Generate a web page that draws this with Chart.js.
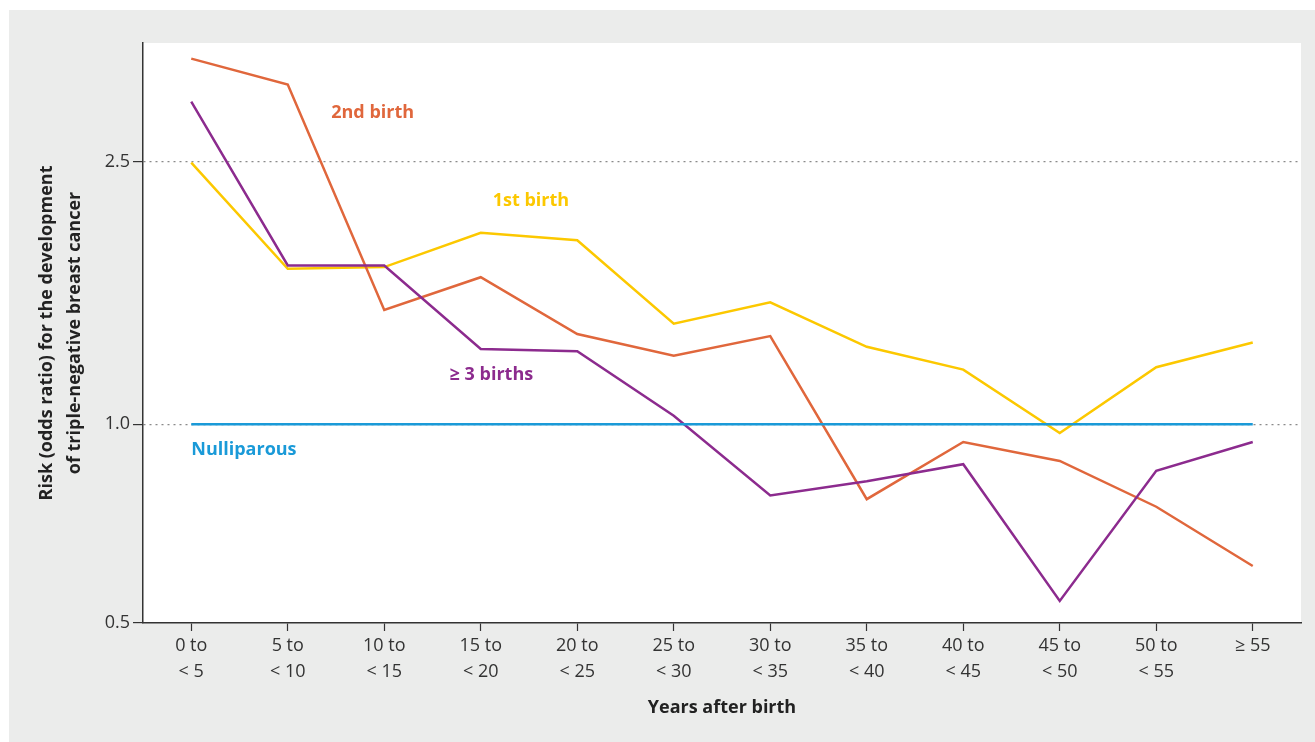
<!DOCTYPE html>
<html>
<head>
<meta charset="utf-8">
<title>Triple-negative breast cancer risk after birth</title>
<script src="https://cdn.jsdelivr.net/npm/chart.js@4.4.1/dist/chart.umd.min.js"></script>
<style>
  html, body { margin: 0; padding: 0; background: #fff; }
  canvas { display: block; }
</style>
</head>
<body>
<canvas id="riskChart" width="1315" height="742"></canvas>
<script>
"use strict";

// категории по оси X
const yearLabels = [
  ["0 to", "< 5"], ["5 to", "< 10"], ["10 to", "< 15"], ["15 to", "< 20"],
  ["20 to", "< 25"], ["25 to", "< 30"], ["30 to", "< 35"], ["35 to", "< 40"],
  ["40 to", "< 45"], ["45 to", "< 50"], ["50 to", "< 55"], ["≥ 55"]
];

// значения (odds ratio)
const nulliparous = [1, 1, 1, 1, 1, 1, 1, 1, 1, 1, 1, 1];
const firstBirth  = [2.49, 1.72, 1.73, 1.95, 1.90, 1.42, 1.53, 1.31, 1.21, 0.97, 1.22, 1.33];
const secondBirth = [3.58, 3.27, 1.49, 1.67, 1.37, 1.27, 1.36, 0.77, 0.94, 0.88, 0.75, 0.61];
const thirdBirth  = [3.08, 1.74, 1.74, 1.30, 1.29, 1.03, 0.78, 0.82, 0.87, 0.54, 0.85, 0.94];

// подписи оси Y
const yTicks = [0.5, 1.0, 2.5];

const FONT = "'Open Sans', 'Noto Sans', sans-serif";
const COLORS = {
  blue: "#1a9ad8",
  yellow: "#fcc800",
  orange: "#e0673c",
  purple: "#8c2b8e"
};

// подписи линий прямо на графике (x — индекс категории, y — значение)
const lineNotes = [
  { text: "2nd birth", x: 1.88, y: 2.96, color: COLORS.orange, align: "center" },
  { text: "1st birth", x: 3.52, y: 2.18, color: COLORS.yellow, align: "center" },
  { text: "≥ 3 births", x: 3.11, y: 1.187, color: COLORS.purple, align: "center" },
  { text: "Nulliparous", x: 0, y: 0.913, color: COLORS.blue, align: "left" }
];

// серый фон и белая область графика
const panelBackground = {
  id: "panelBackground",
  beforeDraw(chart) {
    const { ctx, chartArea } = chart;
    ctx.save();
    ctx.fillStyle = "#ebeceb";
    ctx.fillRect(9, 10, chart.width - 9, chart.height - 10);
    ctx.fillStyle = "#ffffff";
    ctx.fillRect(chartArea.left, chartArea.top,
      chartArea.right - chartArea.left, chartArea.bottom - chartArea.top);
    ctx.restore();
  }
};

const lineNotesPlugin = {
  id: "lineNotes",
  afterDatasetsDraw(chart) {
    const { ctx, scales } = chart;
    ctx.save();
    ctx.font = "bold 18px " + FONT;
    ctx.textBaseline = "middle";
    lineNotes.forEach((note) => {
      ctx.fillStyle = note.color;
      ctx.textAlign = note.align;
      ctx.fillText(note.text, scales.x.getPixelForValue(note.x), scales.y.getPixelForValue(note.y));
    });
    ctx.restore();
  }
};

function makeLine(label, data, color) {
  return {
    label,
    data,
    borderColor: color,
    backgroundColor: color,
    borderWidth: 2.5,
    pointRadius: 0,
    tension: 0,
    fill: false
  };
}

const ctx = document.getElementById("riskChart");
new Chart(ctx, {
  type: "line",
  data: {
    labels: yearLabels,
    datasets: [
      makeLine("Nulliparous", nulliparous, COLORS.blue),
      makeLine("≥ 3 births", thirdBirth, COLORS.purple),
      makeLine("2nd birth", secondBirth, COLORS.orange),
      makeLine("1st birth", firstBirth, COLORS.yellow)
    ]
  },
  options: {
    responsive: false,
    animation: false,
    devicePixelRatio: 1,
    layout: { padding: { top: 43, right: 14, left: 0, bottom: 0 } },
    plugins: {
      legend: { display: false },
      tooltip: { enabled: false }
    },
    scales: {
      x: {
        offset: true,
        afterFit: (scale) => { scale.height = 119; },
        border: { display: true, color: "#333", width: 1.5 },
        grid: {
          drawOnChartArea: false,
          drawTicks: true,
          tickLength: 8,
          tickColor: "#333",
          tickWidth: 1.2
        },
        ticks: {
          autoSkip: false,
          maxRotation: 0,
          padding: 2,
          color: "#333",
          font: { family: FONT, size: 18, lineHeight: 1.45 }
        },
        title: {
          display: true,
          text: "Years after birth",
          color: "#222",
          padding: { top: 0, bottom: 23 },
          font: { family: FONT, size: 18, weight: "bold", lineHeight: 1.2 }
        }
      },
      y: {
        type: "logarithmic",
        min: 0.5,
        max: 3.78,
        afterBuildTicks: (scale) => {
          scale.ticks = yTicks.map((v) => ({ value: v }));
        },
        afterFit: (scale) => { scale.width = 143; },
        // в v4 пунктир линий сетки задаётся через border.dash
        border: { display: true, color: "#333", width: 1.5, dash: [2, 4] },
        grid: {
          color: (c) => (c.tick && c.tick.value === 0.5 ? "rgba(0,0,0,0)" : "#8a8a8a"),
          lineWidth: 1.2,
          drawTicks: true,
          tickLength: 10,
          tickColor: "#333",
          tickWidth: 1.2,
          tickBorderDash: []
        },
        ticks: {
          autoSkip: false,
          padding: 3,
          color: "#333",
          font: { family: FONT, size: 18 },
          callback: (v) => Number(v).toFixed(1)
        },
        title: {
          display: true,
          text: ["Risk (odds ratio) for the development", "of triple-negative breast cancer"],
          color: "#222",
          padding: { top: 33, bottom: 0 },
          font: { family: FONT, size: 18, weight: "bold", lineHeight: 1.55 }
        }
      }
    }
  },
  plugins: [panelBackground, lineNotesPlugin]
});
</script>
</body>
</html>
